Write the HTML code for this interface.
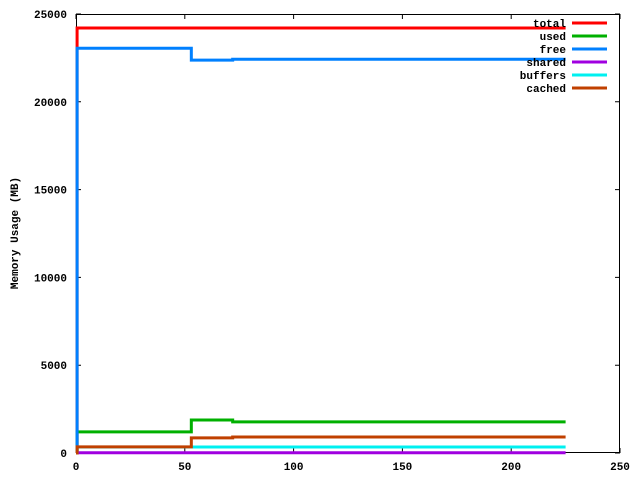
<!DOCTYPE html>
<html><head><meta charset="utf-8"><style>
body{margin:0;background:#fff}
svg text{font-family:"Liberation Mono",monospace;font-weight:bold;font-size:11px;fill:#000}
</style></head><body>
<svg id="chart" width="640" height="480" xmlns="http://www.w3.org/2000/svg">
<rect width="640" height="480" fill="#fff"/>
<g id="axes"></g>
<g id="series"></g>
<g id="legend"></g>
</svg>
<script>
const xs = [0, 0.5, 53, 72, 225];
const seriesNames = ["total","used","free","shared","buffers","cached"];
const totalVals = [0, 24200, 24200, 24200, 24200];
const usedVals = [0, 1200, 1880, 1770, 1770];
const freeVals = [0, 23050, 22370, 22420, 22420];
const sharedVals = [0, 15, 15, 15, 15];
const buffersVals = [0, 340, 340, 340, 340];
const cachedVals = [0, 350, 860, 910, 910];
const xTicks = [0,50,100,150,200,250];
const yTicks = [0,5000,10000,15000,20000,25000];
const colors = ["#ff0000","#00b000","#0080ff","#a000e0","#00f0f0","#c04000"];
const L=76,R=620,T=14,B=453;
const sx=v=>L+(v/250)*(R-L);
const sy=v=>B-(v/25000)*(B-T);
const NS="http://www.w3.org/2000/svg";
function mk(tag,attrs,parent){const e=document.createElementNS(NS,tag);for(const k in attrs)e.setAttribute(k,attrs[k]);parent.appendChild(e);return e;}
const sg=document.getElementById('series'),ag=document.getElementById('axes'),lg=document.getElementById('legend');
const frame=mk('rect',{x:L+0.5,y:T+0.5,width:R-L-1,height:B-T-1,fill:'none',stroke:'#000','stroke-width':1},ag);


xTicks.forEach(t=>{
 const x=sx(t);
 const tk=mk('path',{d:`M${x} ${B}V${B-5}M${x} ${T}V${T+5}`,stroke:'#000','stroke-width':1},ag);
 
 
 const tx=mk('text',{x:x,y:B+17,'text-anchor':'middle'},ag);tx.textContent=t;
 
 
});
yTicks.forEach(t=>{
 const y=sy(t);
 const tk=mk('path',{d:`M${L} ${y}H${L+5}M${R} ${y}H${R-5}`,stroke:'#000','stroke-width':1},ag);
 
 
 const tx=mk('text',{x:L-9,y:y+4,'text-anchor':'end'},ag);tx.textContent=t;
 
 
});
const yt=mk('text',{x:0,y:0,'text-anchor':'middle',transform:'translate(18,233) rotate(-90)'},ag);
yt.textContent='Memory Usage (MB)';


const all=[totalVals,usedVals,freeVals,sharedVals,buffersVals,cachedVals];
all.forEach((vals,i)=>{
 let d=`M${sx(xs[0])} ${sy(vals[0])}`;
 for(let k=1;k<xs.length;k++){d+=`H${sx(xs[k])}V${sy(vals[k])}`;}
 const p=mk('path',{d:d,fill:'none',stroke:colors[i],'stroke-width':3},sg);
 
 
});
seriesNames.forEach((n,i)=>{
 const y=23+i*13;
 const tx=mk('text',{x:566,y:y+4,'text-anchor':'end'},lg);tx.textContent=n;
 
 
 const ln=mk('line',{x1:572,x2:607,y1:y,y2:y,stroke:colors[i],'stroke-width':3},lg);
 
 
});
</script>
</body></html>
